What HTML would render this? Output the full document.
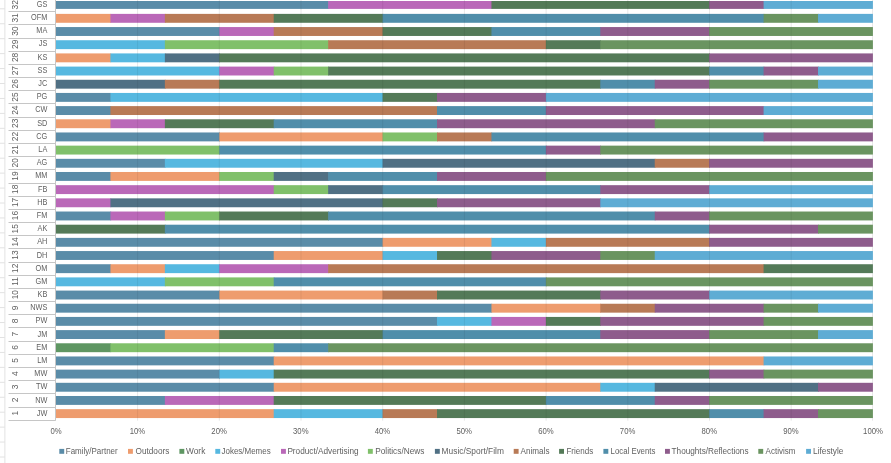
<!DOCTYPE html>
<html lang="en"><head><meta charset="utf-8"><title>Post categories by participant</title>
<style>html,body{margin:0;padding:0;background:#fff}body{width:891px;height:463px;overflow:hidden}svg{display:block}text{font-family:"Liberation Sans",sans-serif;fill:#606060}</style>
</head><body>
<svg width="891" height="463" viewBox="0 0 891 463">
<rect x="0" y="0" width="891" height="463" fill="#ffffff"/>
<g stroke="#E2E2E2" stroke-width="1">
<line x1="4.9" y1="0" x2="4.9" y2="463"/>
<line x1="0" y1="8.80" x2="4.9" y2="8.80"/>
<line x1="0" y1="23.74" x2="4.9" y2="23.74"/>
<line x1="0" y1="38.68" x2="4.9" y2="38.68"/>
<line x1="0" y1="53.62" x2="4.9" y2="53.62"/>
<line x1="0" y1="68.56" x2="4.9" y2="68.56"/>
<line x1="0" y1="83.50" x2="4.9" y2="83.50"/>
<line x1="0" y1="98.44" x2="4.9" y2="98.44"/>
<line x1="0" y1="113.38" x2="4.9" y2="113.38"/>
<line x1="0" y1="128.32" x2="4.9" y2="128.32"/>
<line x1="0" y1="143.26" x2="4.9" y2="143.26"/>
<line x1="0" y1="158.20" x2="4.9" y2="158.20"/>
<line x1="0" y1="173.14" x2="4.9" y2="173.14"/>
<line x1="0" y1="188.08" x2="4.9" y2="188.08"/>
<line x1="0" y1="203.02" x2="4.9" y2="203.02"/>
<line x1="0" y1="217.96" x2="4.9" y2="217.96"/>
<line x1="0" y1="232.90" x2="4.9" y2="232.90"/>
<line x1="0" y1="247.84" x2="4.9" y2="247.84"/>
<line x1="0" y1="262.78" x2="4.9" y2="262.78"/>
<line x1="0" y1="277.72" x2="4.9" y2="277.72"/>
<line x1="0" y1="292.66" x2="4.9" y2="292.66"/>
<line x1="0" y1="307.60" x2="4.9" y2="307.60"/>
<line x1="0" y1="322.54" x2="4.9" y2="322.54"/>
<line x1="0" y1="337.48" x2="4.9" y2="337.48"/>
<line x1="0" y1="352.42" x2="4.9" y2="352.42"/>
<line x1="0" y1="367.36" x2="4.9" y2="367.36"/>
<line x1="0" y1="382.30" x2="4.9" y2="382.30"/>
<line x1="0" y1="397.24" x2="4.9" y2="397.24"/>
<line x1="0" y1="412.18" x2="4.9" y2="412.18"/>
<line x1="0" y1="427.12" x2="4.9" y2="427.12"/>
<line x1="0" y1="442.06" x2="4.9" y2="442.06"/>
<line x1="0" y1="457.00" x2="4.9" y2="457.00"/>
</g>
<g stroke="#E0E0E0" stroke-width="0.75">
<line x1="137.60" y1="0" x2="137.60" y2="420.7"/>
<line x1="219.30" y1="0" x2="219.30" y2="420.7"/>
<line x1="301.00" y1="0" x2="301.00" y2="420.7"/>
<line x1="382.70" y1="0" x2="382.70" y2="420.7"/>
<line x1="464.40" y1="0" x2="464.40" y2="420.7"/>
<line x1="546.10" y1="0" x2="546.10" y2="420.7"/>
<line x1="627.80" y1="0" x2="627.80" y2="420.7"/>
<line x1="709.50" y1="0" x2="709.50" y2="420.7"/>
<line x1="791.20" y1="0" x2="791.20" y2="420.7"/>
<line x1="872.50" y1="0" x2="872.50" y2="420.7"/>
</g>
<g shape-rendering="auto">
<rect x="56.00" y="1.00" width="272.85" height="7.90" fill="#5A8CA8"/>
<rect x="328.15" y="1.00" width="163.99" height="7.90" fill="#BA68B8"/>
<rect x="491.44" y="1.00" width="218.42" height="7.90" fill="#547A58"/>
<rect x="709.16" y="1.00" width="55.13" height="7.90" fill="#8E5C8C"/>
<rect x="763.59" y="1.00" width="109.31" height="7.90" fill="#5EACD4"/>
<rect x="56.00" y="13.88" width="55.13" height="8.90" fill="#EE9C6E"/>
<rect x="110.43" y="13.88" width="55.13" height="8.90" fill="#BA68B8"/>
<rect x="164.86" y="13.88" width="109.56" height="8.90" fill="#B87A56"/>
<rect x="273.72" y="13.88" width="109.56" height="8.90" fill="#547A58"/>
<rect x="382.58" y="13.88" width="381.71" height="8.90" fill="#508EAA"/>
<rect x="763.59" y="13.88" width="55.13" height="8.90" fill="#6A9460"/>
<rect x="818.02" y="13.88" width="54.88" height="8.90" fill="#5EACD4"/>
<rect x="56.00" y="27.06" width="163.99" height="8.90" fill="#5A8CA8"/>
<rect x="219.29" y="27.06" width="55.13" height="8.90" fill="#BA68B8"/>
<rect x="273.72" y="27.06" width="109.56" height="8.90" fill="#B87A56"/>
<rect x="382.58" y="27.06" width="109.56" height="8.90" fill="#547A58"/>
<rect x="491.44" y="27.06" width="109.56" height="8.90" fill="#508EAA"/>
<rect x="600.30" y="27.06" width="109.56" height="8.90" fill="#8E5C8C"/>
<rect x="709.16" y="27.06" width="163.74" height="8.90" fill="#6A9460"/>
<rect x="56.00" y="40.23" width="109.56" height="8.90" fill="#56B8E0"/>
<rect x="164.86" y="40.23" width="163.99" height="8.90" fill="#80C06A"/>
<rect x="328.15" y="40.23" width="218.42" height="8.90" fill="#B87A56"/>
<rect x="545.87" y="40.23" width="55.13" height="8.90" fill="#547A58"/>
<rect x="600.30" y="40.23" width="272.60" height="8.90" fill="#6A9460"/>
<rect x="56.00" y="53.41" width="55.13" height="8.90" fill="#EE9C6E"/>
<rect x="110.43" y="53.41" width="55.13" height="8.90" fill="#56B8E0"/>
<rect x="164.86" y="53.41" width="55.13" height="8.90" fill="#507084"/>
<rect x="219.29" y="53.41" width="490.57" height="8.90" fill="#547A58"/>
<rect x="709.16" y="53.41" width="163.74" height="8.90" fill="#8E5C8C"/>
<rect x="56.00" y="66.59" width="163.99" height="8.90" fill="#56B8E0"/>
<rect x="219.29" y="66.59" width="55.13" height="8.90" fill="#BA68B8"/>
<rect x="273.72" y="66.59" width="55.13" height="8.90" fill="#80C06A"/>
<rect x="328.15" y="66.59" width="381.71" height="8.90" fill="#547A58"/>
<rect x="709.16" y="66.59" width="55.13" height="8.90" fill="#508EAA"/>
<rect x="763.59" y="66.59" width="55.13" height="8.90" fill="#8E5C8C"/>
<rect x="818.02" y="66.59" width="54.88" height="8.90" fill="#5EACD4"/>
<rect x="56.00" y="79.76" width="109.56" height="8.90" fill="#507084"/>
<rect x="164.86" y="79.76" width="55.13" height="8.90" fill="#B87A56"/>
<rect x="219.29" y="79.76" width="381.71" height="8.90" fill="#547A58"/>
<rect x="600.30" y="79.76" width="55.13" height="8.90" fill="#508EAA"/>
<rect x="654.73" y="79.76" width="55.13" height="8.90" fill="#8E5C8C"/>
<rect x="709.16" y="79.76" width="109.56" height="8.90" fill="#6A9460"/>
<rect x="818.02" y="79.76" width="54.88" height="8.90" fill="#5EACD4"/>
<rect x="56.00" y="92.94" width="55.13" height="8.90" fill="#5A8CA8"/>
<rect x="110.43" y="92.94" width="272.85" height="8.90" fill="#56B8E0"/>
<rect x="382.58" y="92.94" width="55.13" height="8.90" fill="#547A58"/>
<rect x="437.01" y="92.94" width="109.56" height="8.90" fill="#8E5C8C"/>
<rect x="545.87" y="92.94" width="327.03" height="8.90" fill="#5EACD4"/>
<rect x="56.00" y="106.11" width="55.13" height="8.90" fill="#5A8CA8"/>
<rect x="110.43" y="106.11" width="327.28" height="8.90" fill="#B87A56"/>
<rect x="437.01" y="106.11" width="109.56" height="8.90" fill="#508EAA"/>
<rect x="545.87" y="106.11" width="218.42" height="8.90" fill="#8E5C8C"/>
<rect x="763.59" y="106.11" width="109.31" height="8.90" fill="#5EACD4"/>
<rect x="56.00" y="119.29" width="55.13" height="8.90" fill="#EE9C6E"/>
<rect x="110.43" y="119.29" width="55.13" height="8.90" fill="#BA68B8"/>
<rect x="164.86" y="119.29" width="109.56" height="8.90" fill="#547A58"/>
<rect x="273.72" y="119.29" width="163.99" height="8.90" fill="#508EAA"/>
<rect x="437.01" y="119.29" width="218.42" height="8.90" fill="#8E5C8C"/>
<rect x="654.73" y="119.29" width="218.17" height="8.90" fill="#6A9460"/>
<rect x="56.00" y="132.47" width="163.99" height="8.90" fill="#5A8CA8"/>
<rect x="219.29" y="132.47" width="163.99" height="8.90" fill="#EE9C6E"/>
<rect x="382.58" y="132.47" width="55.13" height="8.90" fill="#80C06A"/>
<rect x="437.01" y="132.47" width="55.13" height="8.90" fill="#B87A56"/>
<rect x="491.44" y="132.47" width="272.85" height="8.90" fill="#508EAA"/>
<rect x="763.59" y="132.47" width="109.31" height="8.90" fill="#8E5C8C"/>
<rect x="56.00" y="145.64" width="163.99" height="8.90" fill="#80C06A"/>
<rect x="219.29" y="145.64" width="327.28" height="8.90" fill="#508EAA"/>
<rect x="545.87" y="145.64" width="55.13" height="8.90" fill="#8E5C8C"/>
<rect x="600.30" y="145.64" width="272.60" height="8.90" fill="#6A9460"/>
<rect x="56.00" y="158.82" width="109.56" height="8.90" fill="#5A8CA8"/>
<rect x="164.86" y="158.82" width="218.42" height="8.90" fill="#56B8E0"/>
<rect x="382.58" y="158.82" width="272.85" height="8.90" fill="#507084"/>
<rect x="654.73" y="158.82" width="55.13" height="8.90" fill="#B87A56"/>
<rect x="709.16" y="158.82" width="163.74" height="8.90" fill="#8E5C8C"/>
<rect x="56.00" y="171.99" width="55.13" height="8.90" fill="#5A8CA8"/>
<rect x="110.43" y="171.99" width="109.56" height="8.90" fill="#EE9C6E"/>
<rect x="219.29" y="171.99" width="55.13" height="8.90" fill="#80C06A"/>
<rect x="273.72" y="171.99" width="55.13" height="8.90" fill="#507084"/>
<rect x="328.15" y="171.99" width="109.56" height="8.90" fill="#508EAA"/>
<rect x="437.01" y="171.99" width="109.56" height="8.90" fill="#8E5C8C"/>
<rect x="545.87" y="171.99" width="327.03" height="8.90" fill="#6A9460"/>
<rect x="56.00" y="185.17" width="218.42" height="8.90" fill="#BA68B8"/>
<rect x="273.72" y="185.17" width="55.13" height="8.90" fill="#80C06A"/>
<rect x="328.15" y="185.17" width="55.13" height="8.90" fill="#507084"/>
<rect x="382.58" y="185.17" width="218.42" height="8.90" fill="#508EAA"/>
<rect x="600.30" y="185.17" width="109.56" height="8.90" fill="#8E5C8C"/>
<rect x="709.16" y="185.17" width="163.74" height="8.90" fill="#5EACD4"/>
<rect x="56.00" y="198.35" width="55.13" height="8.90" fill="#BA68B8"/>
<rect x="110.43" y="198.35" width="272.85" height="8.90" fill="#507084"/>
<rect x="382.58" y="198.35" width="55.13" height="8.90" fill="#547A58"/>
<rect x="437.01" y="198.35" width="163.99" height="8.90" fill="#8E5C8C"/>
<rect x="600.30" y="198.35" width="272.60" height="8.90" fill="#5EACD4"/>
<rect x="56.00" y="211.52" width="55.13" height="8.90" fill="#5A8CA8"/>
<rect x="110.43" y="211.52" width="55.13" height="8.90" fill="#BA68B8"/>
<rect x="164.86" y="211.52" width="55.13" height="8.90" fill="#80C06A"/>
<rect x="219.29" y="211.52" width="109.56" height="8.90" fill="#547A58"/>
<rect x="328.15" y="211.52" width="327.28" height="8.90" fill="#508EAA"/>
<rect x="654.73" y="211.52" width="55.13" height="8.90" fill="#8E5C8C"/>
<rect x="709.16" y="211.52" width="163.74" height="8.90" fill="#6A9460"/>
<rect x="56.00" y="224.70" width="109.56" height="8.90" fill="#547A58"/>
<rect x="164.86" y="224.70" width="545.00" height="8.90" fill="#508EAA"/>
<rect x="709.16" y="224.70" width="109.56" height="8.90" fill="#8E5C8C"/>
<rect x="818.02" y="224.70" width="54.88" height="8.90" fill="#6A9460"/>
<rect x="56.00" y="237.87" width="327.28" height="8.90" fill="#5A8CA8"/>
<rect x="382.58" y="237.87" width="109.56" height="8.90" fill="#EE9C6E"/>
<rect x="491.44" y="237.87" width="55.13" height="8.90" fill="#56B8E0"/>
<rect x="545.87" y="237.87" width="163.99" height="8.90" fill="#B87A56"/>
<rect x="709.16" y="237.87" width="163.74" height="8.90" fill="#8E5C8C"/>
<rect x="56.00" y="251.05" width="218.42" height="8.90" fill="#5A8CA8"/>
<rect x="273.72" y="251.05" width="109.56" height="8.90" fill="#EE9C6E"/>
<rect x="382.58" y="251.05" width="55.13" height="8.90" fill="#56B8E0"/>
<rect x="437.01" y="251.05" width="55.13" height="8.90" fill="#547A58"/>
<rect x="491.44" y="251.05" width="109.56" height="8.90" fill="#8E5C8C"/>
<rect x="600.30" y="251.05" width="55.13" height="8.90" fill="#6A9460"/>
<rect x="654.73" y="251.05" width="218.17" height="8.90" fill="#5EACD4"/>
<rect x="56.00" y="264.23" width="55.13" height="8.90" fill="#5A8CA8"/>
<rect x="110.43" y="264.23" width="55.13" height="8.90" fill="#EE9C6E"/>
<rect x="164.86" y="264.23" width="55.13" height="8.90" fill="#56B8E0"/>
<rect x="219.29" y="264.23" width="109.56" height="8.90" fill="#BA68B8"/>
<rect x="328.15" y="264.23" width="436.14" height="8.90" fill="#B87A56"/>
<rect x="763.59" y="264.23" width="109.31" height="8.90" fill="#547A58"/>
<rect x="56.00" y="277.40" width="109.56" height="8.90" fill="#56B8E0"/>
<rect x="164.86" y="277.40" width="109.56" height="8.90" fill="#80C06A"/>
<rect x="273.72" y="277.40" width="272.85" height="8.90" fill="#508EAA"/>
<rect x="545.87" y="277.40" width="327.03" height="8.90" fill="#6A9460"/>
<rect x="56.00" y="290.58" width="163.99" height="8.90" fill="#5A8CA8"/>
<rect x="219.29" y="290.58" width="163.99" height="8.90" fill="#EE9C6E"/>
<rect x="382.58" y="290.58" width="55.13" height="8.90" fill="#B87A56"/>
<rect x="437.01" y="290.58" width="163.99" height="8.90" fill="#547A58"/>
<rect x="600.30" y="290.58" width="109.56" height="8.90" fill="#8E5C8C"/>
<rect x="709.16" y="290.58" width="163.74" height="8.90" fill="#5EACD4"/>
<rect x="56.00" y="303.75" width="436.14" height="8.90" fill="#5A8CA8"/>
<rect x="491.44" y="303.75" width="109.56" height="8.90" fill="#EE9C6E"/>
<rect x="600.30" y="303.75" width="55.13" height="8.90" fill="#B87A56"/>
<rect x="654.73" y="303.75" width="109.56" height="8.90" fill="#8E5C8C"/>
<rect x="763.59" y="303.75" width="55.13" height="8.90" fill="#6A9460"/>
<rect x="818.02" y="303.75" width="54.88" height="8.90" fill="#5EACD4"/>
<rect x="56.00" y="316.93" width="381.71" height="8.90" fill="#5A8CA8"/>
<rect x="437.01" y="316.93" width="55.13" height="8.90" fill="#56B8E0"/>
<rect x="491.44" y="316.93" width="55.13" height="8.90" fill="#BA68B8"/>
<rect x="545.87" y="316.93" width="55.13" height="8.90" fill="#547A58"/>
<rect x="600.30" y="316.93" width="163.99" height="8.90" fill="#8E5C8C"/>
<rect x="763.59" y="316.93" width="109.31" height="8.90" fill="#6A9460"/>
<rect x="56.00" y="330.11" width="109.56" height="8.90" fill="#5A8CA8"/>
<rect x="164.86" y="330.11" width="55.13" height="8.90" fill="#EE9C6E"/>
<rect x="219.29" y="330.11" width="163.99" height="8.90" fill="#547A58"/>
<rect x="382.58" y="330.11" width="218.42" height="8.90" fill="#508EAA"/>
<rect x="600.30" y="330.11" width="109.56" height="8.90" fill="#8E5C8C"/>
<rect x="709.16" y="330.11" width="109.56" height="8.90" fill="#6A9460"/>
<rect x="818.02" y="330.11" width="54.88" height="8.90" fill="#5EACD4"/>
<rect x="56.00" y="343.28" width="55.13" height="8.90" fill="#5E9662"/>
<rect x="110.43" y="343.28" width="163.99" height="8.90" fill="#80C06A"/>
<rect x="273.72" y="343.28" width="55.13" height="8.90" fill="#508EAA"/>
<rect x="328.15" y="343.28" width="544.75" height="8.90" fill="#6A9460"/>
<rect x="56.00" y="356.46" width="218.42" height="8.90" fill="#5A8CA8"/>
<rect x="273.72" y="356.46" width="490.57" height="8.90" fill="#EE9C6E"/>
<rect x="763.59" y="356.46" width="109.31" height="8.90" fill="#5EACD4"/>
<rect x="56.00" y="369.63" width="163.99" height="8.90" fill="#5A8CA8"/>
<rect x="219.29" y="369.63" width="55.13" height="8.90" fill="#56B8E0"/>
<rect x="273.72" y="369.63" width="436.14" height="8.90" fill="#547A58"/>
<rect x="709.16" y="369.63" width="55.13" height="8.90" fill="#8E5C8C"/>
<rect x="763.59" y="369.63" width="109.31" height="8.90" fill="#6A9460"/>
<rect x="56.00" y="382.81" width="218.42" height="8.90" fill="#5A8CA8"/>
<rect x="273.72" y="382.81" width="327.28" height="8.90" fill="#EE9C6E"/>
<rect x="600.30" y="382.81" width="55.13" height="8.90" fill="#56B8E0"/>
<rect x="654.73" y="382.81" width="163.99" height="8.90" fill="#507084"/>
<rect x="818.02" y="382.81" width="54.88" height="8.90" fill="#8E5C8C"/>
<rect x="56.00" y="395.99" width="109.56" height="8.90" fill="#5A8CA8"/>
<rect x="164.86" y="395.99" width="109.56" height="8.90" fill="#BA68B8"/>
<rect x="273.72" y="395.99" width="272.85" height="8.90" fill="#547A58"/>
<rect x="545.87" y="395.99" width="109.56" height="8.90" fill="#508EAA"/>
<rect x="654.73" y="395.99" width="55.13" height="8.90" fill="#8E5C8C"/>
<rect x="709.16" y="395.99" width="163.74" height="8.90" fill="#6A9460"/>
<rect x="56.00" y="409.16" width="218.42" height="8.90" fill="#EE9C6E"/>
<rect x="273.72" y="409.16" width="109.56" height="8.90" fill="#56B8E0"/>
<rect x="382.58" y="409.16" width="55.13" height="8.90" fill="#B87A56"/>
<rect x="437.01" y="409.16" width="272.85" height="8.90" fill="#547A58"/>
<rect x="709.16" y="409.16" width="55.13" height="8.90" fill="#508EAA"/>
<rect x="763.59" y="409.16" width="55.13" height="8.90" fill="#8E5C8C"/>
<rect x="818.02" y="409.16" width="54.88" height="8.90" fill="#6A9460"/>
</g>
<g stroke="#000" stroke-opacity="0.09" stroke-width="0.75" stroke-dasharray="8.8 4.376" stroke-dashoffset="12.42">
<line x1="137.60" y1="0" x2="137.60" y2="418.2"/>
<line x1="219.30" y1="0" x2="219.30" y2="418.2"/>
<line x1="301.00" y1="0" x2="301.00" y2="418.2"/>
<line x1="382.70" y1="0" x2="382.70" y2="418.2"/>
<line x1="464.40" y1="0" x2="464.40" y2="418.2"/>
<line x1="546.10" y1="0" x2="546.10" y2="418.2"/>
<line x1="627.80" y1="0" x2="627.80" y2="418.2"/>
<line x1="709.50" y1="0" x2="709.50" y2="418.2"/>
<line x1="791.20" y1="0" x2="791.20" y2="418.2"/>
</g>
<g stroke="#C6C6C6" stroke-width="1">
<line x1="8.5" y1="420.50" x2="55.5" y2="420.50"/>
<line x1="8.5" y1="407.50" x2="55.5" y2="407.50"/>
<line x1="8.5" y1="393.50" x2="55.5" y2="393.50"/>
<line x1="8.5" y1="380.50" x2="55.5" y2="380.50"/>
<line x1="8.5" y1="367.50" x2="55.5" y2="367.50"/>
<line x1="8.5" y1="354.50" x2="55.5" y2="354.50"/>
<line x1="8.5" y1="341.50" x2="55.5" y2="341.50"/>
<line x1="8.5" y1="327.50" x2="55.5" y2="327.50"/>
<line x1="8.5" y1="314.50" x2="55.5" y2="314.50"/>
<line x1="8.5" y1="301.50" x2="55.5" y2="301.50"/>
<line x1="8.5" y1="288.50" x2="55.5" y2="288.50"/>
<line x1="8.5" y1="275.50" x2="55.5" y2="275.50"/>
<line x1="8.5" y1="262.50" x2="55.5" y2="262.50"/>
<line x1="8.5" y1="248.50" x2="55.5" y2="248.50"/>
<line x1="8.5" y1="235.50" x2="55.5" y2="235.50"/>
<line x1="8.5" y1="222.50" x2="55.5" y2="222.50"/>
<line x1="8.5" y1="209.50" x2="55.5" y2="209.50"/>
<line x1="8.5" y1="196.50" x2="55.5" y2="196.50"/>
<line x1="8.5" y1="183.50" x2="55.5" y2="183.50"/>
<line x1="8.5" y1="169.50" x2="55.5" y2="169.50"/>
<line x1="8.5" y1="156.50" x2="55.5" y2="156.50"/>
<line x1="8.5" y1="143.50" x2="55.5" y2="143.50"/>
<line x1="8.5" y1="130.50" x2="55.5" y2="130.50"/>
<line x1="8.5" y1="117.50" x2="55.5" y2="117.50"/>
<line x1="8.5" y1="103.50" x2="55.5" y2="103.50"/>
<line x1="8.5" y1="90.50" x2="55.5" y2="90.50"/>
<line x1="8.5" y1="77.50" x2="55.5" y2="77.50"/>
<line x1="8.5" y1="64.50" x2="55.5" y2="64.50"/>
<line x1="8.5" y1="51.50" x2="55.5" y2="51.50"/>
<line x1="8.5" y1="38.50" x2="55.5" y2="38.50"/>
<line x1="8.5" y1="24.50" x2="55.5" y2="24.50"/>
<line x1="8.5" y1="11.50" x2="55.5" y2="11.50"/>
<line x1="55.5" y1="0" x2="55.5" y2="420.7"/>
</g>
<g font-size="8.6" text-anchor="end">
<text transform="translate(47.3 6.86) scale(0.85 1)">GS</text>
<text transform="translate(47.3 20.05) scale(0.85 1)">OFM</text>
<text transform="translate(47.3 33.24) scale(0.85 1)">MA</text>
<text transform="translate(47.3 46.44) scale(0.85 1)">JS</text>
<text transform="translate(47.3 59.63) scale(0.85 1)">KS</text>
<text transform="translate(47.3 72.82) scale(0.85 1)">SS</text>
<text transform="translate(47.3 86.01) scale(0.85 1)">JC</text>
<text transform="translate(47.3 99.20) scale(0.85 1)">PG</text>
<text transform="translate(47.3 112.40) scale(0.85 1)">CW</text>
<text transform="translate(47.3 125.59) scale(0.85 1)">SD</text>
<text transform="translate(47.3 138.78) scale(0.85 1)">CG</text>
<text transform="translate(47.3 151.97) scale(0.85 1)">LA</text>
<text transform="translate(47.3 165.16) scale(0.85 1)">AG</text>
<text transform="translate(47.3 178.36) scale(0.85 1)">MM</text>
<text transform="translate(47.3 191.55) scale(0.85 1)">FB</text>
<text transform="translate(47.3 204.74) scale(0.85 1)">HB</text>
<text transform="translate(47.3 217.93) scale(0.85 1)">FM</text>
<text transform="translate(47.3 231.12) scale(0.85 1)">AK</text>
<text transform="translate(47.3 244.32) scale(0.85 1)">AH</text>
<text transform="translate(47.3 257.51) scale(0.85 1)">DH</text>
<text transform="translate(47.3 270.70) scale(0.85 1)">OM</text>
<text transform="translate(47.3 283.89) scale(0.85 1)">GM</text>
<text transform="translate(47.3 297.08) scale(0.85 1)">KB</text>
<text transform="translate(47.3 310.28) scale(0.85 1)">NWS</text>
<text transform="translate(47.3 323.47) scale(0.85 1)">PW</text>
<text transform="translate(47.3 336.66) scale(0.85 1)">JM</text>
<text transform="translate(47.3 349.85) scale(0.85 1)">EM</text>
<text transform="translate(47.3 363.04) scale(0.85 1)">LM</text>
<text transform="translate(47.3 376.24) scale(0.85 1)">MW</text>
<text transform="translate(47.3 389.43) scale(0.85 1)">TW</text>
<text transform="translate(47.3 402.62) scale(0.85 1)">NW</text>
<text transform="translate(47.3 415.81) scale(0.85 1)">JW</text>
</g>
<g font-size="9.6" text-anchor="middle">
<text transform="translate(17.8 4.76) rotate(-90) scale(0.875 1)">32</text>
<text transform="translate(17.8 17.93) rotate(-90) scale(0.875 1)">31</text>
<text transform="translate(17.8 31.11) rotate(-90) scale(0.875 1)">30</text>
<text transform="translate(17.8 44.28) rotate(-90) scale(0.875 1)">29</text>
<text transform="translate(17.8 57.46) rotate(-90) scale(0.875 1)">28</text>
<text transform="translate(17.8 70.64) rotate(-90) scale(0.875 1)">27</text>
<text transform="translate(17.8 83.81) rotate(-90) scale(0.875 1)">26</text>
<text transform="translate(17.8 96.99) rotate(-90) scale(0.875 1)">25</text>
<text transform="translate(17.8 110.16) rotate(-90) scale(0.875 1)">24</text>
<text transform="translate(17.8 123.34) rotate(-90) scale(0.875 1)">23</text>
<text transform="translate(17.8 136.52) rotate(-90) scale(0.875 1)">22</text>
<text transform="translate(17.8 149.69) rotate(-90) scale(0.875 1)">21</text>
<text transform="translate(17.8 162.87) rotate(-90) scale(0.875 1)">20</text>
<text transform="translate(17.8 176.04) rotate(-90) scale(0.875 1)">19</text>
<text transform="translate(17.8 189.22) rotate(-90) scale(0.875 1)">18</text>
<text transform="translate(17.8 202.40) rotate(-90) scale(0.875 1)">17</text>
<text transform="translate(17.8 215.57) rotate(-90) scale(0.875 1)">16</text>
<text transform="translate(17.8 228.75) rotate(-90) scale(0.875 1)">15</text>
<text transform="translate(17.8 241.92) rotate(-90) scale(0.875 1)">14</text>
<text transform="translate(17.8 255.10) rotate(-90) scale(0.875 1)">13</text>
<text transform="translate(17.8 268.28) rotate(-90) scale(0.875 1)">12</text>
<text transform="translate(17.8 281.45) rotate(-90) scale(0.875 1)">11</text>
<text transform="translate(17.8 294.63) rotate(-90) scale(0.875 1)">10</text>
<text transform="translate(17.8 307.80) rotate(-90) scale(0.875 1)">9</text>
<text transform="translate(17.8 320.98) rotate(-90) scale(0.875 1)">8</text>
<text transform="translate(17.8 334.16) rotate(-90) scale(0.875 1)">7</text>
<text transform="translate(17.8 347.33) rotate(-90) scale(0.875 1)">6</text>
<text transform="translate(17.8 360.51) rotate(-90) scale(0.875 1)">5</text>
<text transform="translate(17.8 373.68) rotate(-90) scale(0.875 1)">4</text>
<text transform="translate(17.8 386.86) rotate(-90) scale(0.875 1)">3</text>
<text transform="translate(17.8 400.04) rotate(-90) scale(0.875 1)">2</text>
<text transform="translate(17.8 413.21) rotate(-90) scale(0.875 1)">1</text>
</g>
<g font-size="8.7" text-anchor="middle">
<text transform="translate(56.00 433.9) scale(0.89 1)">0%</text>
<text transform="translate(137.40 433.9) scale(0.89 1)">10%</text>
<text transform="translate(219.10 433.9) scale(0.89 1)">20%</text>
<text transform="translate(300.80 433.9) scale(0.89 1)">30%</text>
<text transform="translate(382.50 433.9) scale(0.89 1)">40%</text>
<text transform="translate(464.20 433.9) scale(0.89 1)">50%</text>
<text transform="translate(545.90 433.9) scale(0.89 1)">60%</text>
<text transform="translate(627.60 433.9) scale(0.89 1)">70%</text>
<text transform="translate(709.30 433.9) scale(0.89 1)">80%</text>
<text transform="translate(791.00 433.9) scale(0.89 1)">90%</text>
<text transform="translate(873.00 433.9) scale(0.89 1)">100%</text>
</g>
<g font-size="8.2">
<rect x="59.3" y="448.9" width="4.9" height="4.9" fill="#5A8CA8"/>
<text x="65.8" y="454.1" textLength="51.9" lengthAdjust="spacingAndGlyphs">Family/Partner</text>
<rect x="128.0" y="448.9" width="4.9" height="4.9" fill="#EE9C6E"/>
<text x="135.5" y="454.1" textLength="33.9" lengthAdjust="spacingAndGlyphs">Outdoors</text>
<rect x="179.4" y="448.9" width="4.9" height="4.9" fill="#5E9662"/>
<text x="186.1" y="454.1" textLength="19.2" lengthAdjust="spacingAndGlyphs">Work</text>
<rect x="215.3" y="448.9" width="4.9" height="4.9" fill="#56B8E0"/>
<text x="221.5" y="454.1" textLength="49.2" lengthAdjust="spacingAndGlyphs">Jokes/Memes</text>
<rect x="281.0" y="448.9" width="4.9" height="4.9" fill="#BA68B8"/>
<text x="287.4" y="454.1" textLength="71.3" lengthAdjust="spacingAndGlyphs">Product/Advertising</text>
<rect x="367.9" y="448.9" width="4.9" height="4.9" fill="#80C06A"/>
<text x="375.2" y="454.1" textLength="49.2" lengthAdjust="spacingAndGlyphs">Politics/News</text>
<rect x="434.9" y="448.9" width="4.9" height="4.9" fill="#507084"/>
<text x="441.6" y="454.1" textLength="62.3" lengthAdjust="spacingAndGlyphs">Music/Sport/Film</text>
<rect x="513.7" y="448.9" width="4.9" height="4.9" fill="#B87A56"/>
<text x="520.6" y="454.1" textLength="28.9" lengthAdjust="spacingAndGlyphs">Animals</text>
<rect x="559.1" y="448.9" width="4.9" height="4.9" fill="#547A58"/>
<text x="566.4" y="454.1" textLength="26.8" lengthAdjust="spacingAndGlyphs">Friends</text>
<rect x="603.4" y="448.9" width="4.9" height="4.9" fill="#508EAA"/>
<text x="610.6" y="454.1" textLength="44.8" lengthAdjust="spacingAndGlyphs">Local Events</text>
<rect x="665.0" y="448.9" width="4.9" height="4.9" fill="#8E5C8C"/>
<text x="671.6" y="454.1" textLength="76.9" lengthAdjust="spacingAndGlyphs">Thoughts/Reflections</text>
<rect x="758.3" y="448.9" width="4.9" height="4.9" fill="#6A9460"/>
<text x="765.6" y="454.1" textLength="29.8" lengthAdjust="spacingAndGlyphs">Activism</text>
<rect x="806.1" y="448.9" width="4.9" height="4.9" fill="#5EACD4"/>
<text x="813.1" y="454.1" textLength="30.3" lengthAdjust="spacingAndGlyphs">Lifestyle</text>
</g>
</svg>
</body></html>
